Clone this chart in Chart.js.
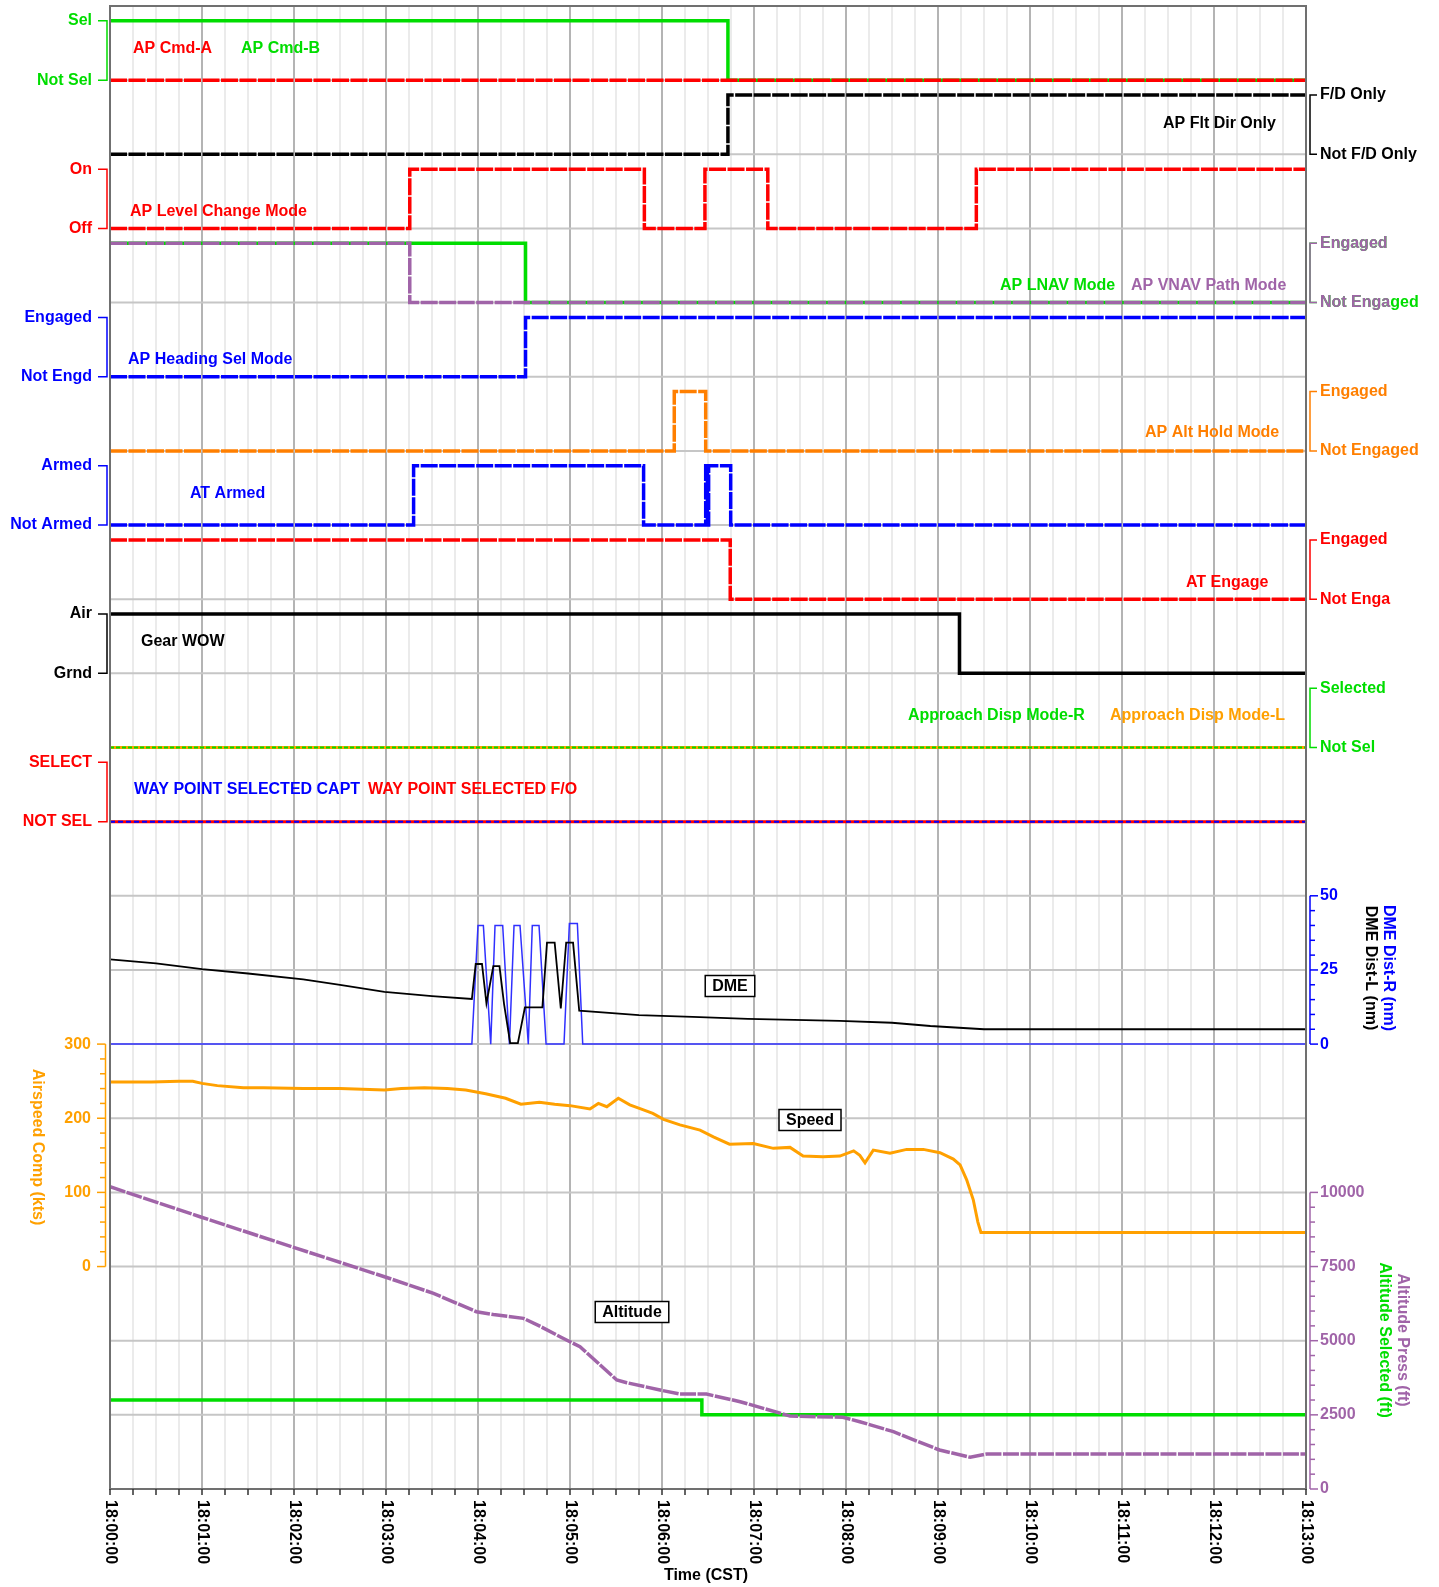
<!DOCTYPE html>
<html><head><meta charset="utf-8">
<script src="https://cdn.jsdelivr.net/npm/chart.js@4.4.1/dist/chart.umd.min.js"></script>
<style>html,body{margin:0;padding:0;background:#fff;overflow:hidden}canvas{display:block}</style>
</head><body>
<canvas id="c" width="1439" height="1587"></canvas>
<script>
// ===== DATA (time in seconds after 18:00:00) =====
const timeTickSeconds = [0,60,120,180,240,300,360,420,480,540,600,660,720,780];
const timeTickLabels = ['18:00:00','18:01:00','18:02:00','18:03:00','18:04:00','18:05:00','18:06:00','18:07:00','18:08:00','18:09:00','18:10:00','18:11:00','18:12:00','18:13:00'];
const speedTicks = [0,100,200,300];
const dmeTicks = [0,25,50];
const altTicks = [0,2500,5000,7500,10000];

// discrete states: [seconds, state]  (1 = upper label, 0 = lower label)
const apCmdA        = [[0,0],[780,0]];
const apCmdB        = [[0,1],[403,0],[780,0]];
const apFltDirOnly  = [[0,0],[403,1],[780,1]];
const apLevelChange = [[0,0],[195.5,1],[348.5,0],[388,1],[429,0],[565,1],[780,1]];
const apLnav        = [[0,1],[271,0],[780,0]];
const apVnavPath    = [[0,1],[195.5,0],[780,0]];
const apHeadingSel  = [[0,0],[271,1],[780,1]];
const apAltHold     = [[0,0],[368,1],[388.5,0],[780,0]];
const atArmed       = [[0,0],[198,1],[348,0],[388.5,1],[389.6,0],[390.4,1],[404.8,0],[780,0]];
const atEngage      = [[0,1],[404.5,0],[780,0]];
const gearWow       = [[0,1],[554,0],[780,0]];
const apprDispR     = [[0,0],[780,0]];
const apprDispL     = [[0,0],[780,0]];
const wptSelCapt    = [[0,0],[780,0]];
const wptSelFo      = [[0,0],[780,0]];

// DME (nm)
const dmeL = [[0,28.6],[30,27.2],[60,25.3],[90,23.8],[126,21.8],[150,20],[179,17.6],[210,16.2],[236,15.2],
  [238.5,27],[242.6,27],[245.5,13.7],[250,26.3],[254,26.3],[257,13.5],[261,0.3],[266,0.3],[270.6,12.4],[282,12.4],
  [285,34.2],[290,34.2],[294,12],[297.5,34.2],[302,34.2],[306,11.3],[345,9.8],[380,9.2],[416,8.5],[476,7.8],
  [510,7.2],[535,6.1],[570,5.0],[780,5.0]];
const dmeR = [[0,0],[236,0],[240,40],[243.5,40],[248.3,0],[251.1,40],[256.1,40],[260.5,0],[263.5,40],[267.4,40],
  [272.8,0],[275.4,40],[279.8,40],[284.4,0],[296.1,0],[299.6,40.7],[304.8,40.7],[308.3,0],[780,0]];

// Airspeed (kts)
const speed = [[0,249],[15,249],[27,249],[45,250],[54,250],[60,247],[70,244],[87,241],[100,241],[126,240],[150,240],
  [179,238],[190,240],[205,241],[220,240],[232,238],[245,233],[258,227],[268,219],[280,221.6],[290,219],[300,217],
  [313,212.6],[318.5,220],[324,215.5],[331.5,227],[339,218],[345.7,213],[354,206.6],[361,198.5],[371.7,191],
  [384.8,184],[393.5,175],[404,165],[419.6,166],[432.6,159.4],[443.5,160.7],[452,149],[465,148],[476,149],
  [485,156],[489,150],[492.4,140],[497.8,157],[508.7,152.7],[519.6,158],[530.4,158],[541.3,153.5],[550,145],
  [554.4,137],[558.7,117],[563,90],[566,60],[568,46],[780,46]];

// Altitude (ft)
const altPress = [[0,10190],[58.7,9179],[118.5,8168],[179,7157],[211,6597],[239,5977],[250,5880],[269.6,5754],
  [280,5500],[293.5,5134],[306.5,4797],[330.5,3674],[337,3583],[358.7,3337],[371.7,3202],[389,3202],[411,2943],
  [443.5,2461],[478,2417],[489,2269],[510.9,1932],[541,1315],[561,1069],[571.8,1180],[780,1180]];
const altSel = [[0,3000],[386,2500],[780,2500]];

// ===== STYLE =====
const RED='#ff0000', GREEN='#00dd00', BLUE='#0000ff', BLACK='#000000', PURPLE='#a064a8',
      ALTORANGE='#ff7f00', SPDORANGE='#ffa000', DMEBLUE='#3030ff';
const FONT = 'bold 16px "Liberation Sans", Arial, sans-serif';
const UNITS = 20, HIGH = 0.8;

function bandScale(k){ const b0 = UNITS - 1 - k; return {type:'linear', display:false, min:-b0/HIGH, max:(UNITS-b0)/HIGH}; }
const scales = {
  x:{type:'linear', display:false, min:0, max:780},
  dme:{type:'linear', display:false, min:-150, max:350},
  spd:{type:'linear', display:false, min:-300, max:1700},
  alt:{type:'linear', display:false, min:0, max:50000}
};
for (let k=0;k<11;k++) scales['b'+k] = bandScale(k);

const toXY = pts => pts.map(([x,y])=>({x,y}));
const DASH = {borderDash:[17,1.5]};
function step(label, pts, k, color, order, extra){
  return Object.assign({label, data:toXY(pts), yAxisID:'b'+k, borderColor:color, backgroundColor:color,
    borderWidth:3.5, pointRadius:0, stepped:true, fill:false, order}, extra||{});
}
const datasets = [
  step('AP Cmd-B', apCmdB, 0, GREEN, 5),
  step('AP Cmd-A', apCmdA, 0, RED, 4, DASH),
  step('AP Flt Dir Only', apFltDirOnly, 1, BLACK, 4, DASH),
  step('AP Level Change Mode', apLevelChange, 2, RED, 4, DASH),
  step('AP LNAV Mode', apLnav, 3, GREEN, 5),
  step('AP VNAV Path Mode', apVnavPath, 3, PURPLE, 4, DASH),
  step('AP Heading Sel Mode', apHeadingSel, 4, BLUE, 4, DASH),
  step('AP Alt Hold Mode', apAltHold, 5, ALTORANGE, 4, DASH),
  step('AT Armed', atArmed, 6, BLUE, 4, DASH),
  step('AT Engage', atEngage, 7, RED, 4, DASH),
  step('Gear WOW', gearWow, 8, BLACK, 4),
  step('Approach Disp Mode-L', apprDispL, 9, SPDORANGE, 5, {borderWidth:3}),
  step('Approach Disp Mode-R', apprDispR, 9, GREEN, 4, {borderWidth:2, borderDash:[4,2]}),
  step('WAY POINT SELECTED F/O', wptSelFo, 10, RED, 5, {borderWidth:3}),
  step('WAY POINT SELECTED CAPT', wptSelCapt, 10, BLUE, 4, {borderWidth:2, borderDash:[5,3]}),
  {label:'DME Dist-R', data:toXY(dmeR), yAxisID:'dme', borderColor:DMEBLUE, borderWidth:1.5, pointRadius:0, order:4},
  {label:'DME Dist-L', data:toXY(dmeL), yAxisID:'dme', borderColor:BLACK, borderWidth:1.8, pointRadius:0, order:3},
  {label:'Airspeed Comp', data:toXY(speed), yAxisID:'spd', borderColor:SPDORANGE, borderWidth:3, pointRadius:0, order:3},
  {label:'Altitude Selected', data:toXY(altSel), yAxisID:'alt', borderColor:GREEN, borderWidth:3.5, pointRadius:0, stepped:true, order:4},
  {label:'Altitude Press', data:toXY(altPress), yAxisID:'alt', borderColor:PURPLE, borderWidth:3.5, pointRadius:0, borderDash:[16,1.5], order:3}
];

// labels drawn on the plot
const leftBandLabels = [
  {k:0, hi:'Sel', lo:'Not Sel', color:GREEN},
  {k:2, hi:'On', lo:'Off', color:RED},
  {k:4, hi:'Engaged', lo:'Not Engd', color:BLUE},
  {k:6, hi:'Armed', lo:'Not Armed', color:BLUE},
  {k:8, hi:'Air', lo:'Grnd', color:BLACK},
  {k:10, hi:'SELECT', lo:'NOT SEL', color:RED}
];
const rightBandLabels = [
  {k:1, hi:'F/D Only', lo:'Not F/D Only', color:BLACK},
  {k:3, hi:'Engaged', lo:'Not Engaged', color:GREEN},
  {k:3, hi:'Engaged', lo:'Not Enga', color:PURPLE},
  {k:5, hi:'Engaged', lo:'Not Engaged', color:ALTORANGE},
  {k:7, hi:'Engaged', lo:'Not Enga', color:RED},
  {k:9, hi:'Selected', lo:'Not Sel', color:GREEN}
];
const seriesLabels = [
  ['AP Cmd-A',133,49,RED],['AP Cmd-B',241,49,GREEN],
  ['AP Flt Dir Only',1163,124,BLACK],
  ['AP Level Change Mode',130,212,RED],
  ['AP LNAV Mode',1000,286,GREEN],['AP VNAV Path Mode',1131,286,PURPLE],
  ['AP Heading Sel Mode',128,360,BLUE],
  ['AP Alt Hold Mode',1145,433,ALTORANGE],
  ['AT Armed',190,494,BLUE],
  ['AT Engage',1186,583,RED],
  ['Gear WOW',141,642,BLACK],
  ['Approach Disp Mode-R',908,716,GREEN],['Approach Disp Mode-L',1110,716,SPDORANGE],
  ['WAY POINT SELECTED CAPT',134,790,BLUE],['WAY POINT SELECTED F/O',368,790,RED]
];
const boxLabels = [['DME',730,986],['Speed',810,1120],['Altitude',632,1312]];

function txt(ctx,s,x,y,color,align){ ctx.font=FONT; ctx.fillStyle=color; ctx.textAlign=align||'left'; ctx.textBaseline='middle'; ctx.fillText(s,x,y); }
function rotTxt(ctx,s,x,y,color,align){ ctx.save(); ctx.translate(x,y); ctx.rotate(Math.PI/2); txt(ctx,s,0,0,color,align||'center'); ctx.restore(); }
function seg(ctx,x1,y1,x2,y2){ ctx.beginPath(); ctx.moveTo(x1,y1); ctx.lineTo(x2,y2); ctx.stroke(); }

const overlay = {
  id:'overlay',
  beforeDraw(chart){ const c=chart.ctx; c.save(); c.fillStyle='#fff'; c.fillRect(0,0,chart.width,chart.height); c.restore(); },
  beforeDatasetsDraw(chart){
    const {ctx, chartArea:a, scales:s} = chart;
    ctx.save();
    for (let t=0; t<=780; t+=15){
      const x = s.x.getPixelForValue(t);
      ctx.strokeStyle = t%60===0 ? '#b4b4b4' : '#e4e4e4';
      ctx.lineWidth = t%60===0 ? 2 : 1.5;
      seg(ctx,x,a.top,x,a.bottom);
    }
    ctx.strokeStyle='#c6c6c6'; ctx.lineWidth=2;
    for (let v=2500; v<50000; v+=2500){ const y=s.alt.getPixelForValue(v); seg(ctx,a.left,y,a.right,y); }
    ctx.restore();
  },
  afterDatasetsDraw(chart){
    const {ctx, chartArea:a, scales:s} = chart;
    ctx.save();
    // plot border
    ctx.strokeStyle='#707070'; ctx.lineWidth=2;
    ctx.strokeRect(a.left,a.top,a.right-a.left,a.bottom-a.top);
    // series labels
    seriesLabels.forEach(([t,x,y,c])=>txt(ctx,t,x,y,c,'left'));
    // boxed labels
    boxLabels.forEach(([t,x,y])=>{
      ctx.font=FONT; const w=ctx.measureText(t).width+14, h=21;
      ctx.fillStyle='#fff'; ctx.fillRect(x-w/2,y-h/2,w,h);
      ctx.strokeStyle='#000'; ctx.lineWidth=1.5; ctx.strokeRect(x-w/2,y-h/2,w,h);
      txt(ctx,t,x,y+0.5,BLACK,'center');
    });
    // left band axes
    leftBandLabels.forEach(b=>{
      const sc=s['b'+b.k], yh=sc.getPixelForValue(1), yl=sc.getPixelForValue(0);
      ctx.strokeStyle=b.color; ctx.lineWidth=1.5;
      ctx.beginPath(); ctx.moveTo(98,yh); ctx.lineTo(107,yh); ctx.lineTo(107,yl); ctx.lineTo(98,yl); ctx.stroke();
      txt(ctx,b.hi,92,yh,b.color,'right'); txt(ctx,b.lo,92,yl,b.color,'right');
    });
    // right band axes
    rightBandLabels.forEach(b=>{
      const sc=s['b'+b.k], yh=sc.getPixelForValue(1), yl=sc.getPixelForValue(0);
      ctx.strokeStyle=b.color; ctx.lineWidth=1.5;
      ctx.beginPath(); ctx.moveTo(1317,yh); ctx.lineTo(1310,yh); ctx.lineTo(1310,yl); ctx.lineTo(1317,yl); ctx.stroke();
      txt(ctx,b.hi,1320,yh,b.color,'left'); txt(ctx,b.lo,1320,yl,b.color,'left');
    });
    // speed axis (left)
    ctx.strokeStyle=SPDORANGE; ctx.lineWidth=1.5;
    seg(ctx,105.5,s.spd.getPixelForValue(300),105.5,s.spd.getPixelForValue(0));
    for (let v=0; v<=300; v+=20){ const y=s.spd.getPixelForValue(v); seg(ctx, v%100===0?97:100, y, 105.5, y); }
    speedTicks.forEach(v=>txt(ctx,String(v),91,s.spd.getPixelForValue(v),SPDORANGE,'right'));
    rotTxt(ctx,'Airspeed Comp (kts)',37,1147,SPDORANGE);
    // DME axis (right)
    ctx.strokeStyle=BLUE; ctx.lineWidth=1.5;
    seg(ctx,1310,s.dme.getPixelForValue(50),1310,s.dme.getPixelForValue(0));
    for (let v=0; v<=50; v+=5){ const y=s.dme.getPixelForValue(v); seg(ctx,1310,y, v%25===0?1318:1315, y); }
    dmeTicks.forEach(v=>txt(ctx,String(v),1320,s.dme.getPixelForValue(v),BLUE,'left'));
    rotTxt(ctx,'DME Dist-R (nm)',1388,968,BLUE);
    rotTxt(ctx,'DME Dist-L (nm)',1370,968,BLACK);
    // Altitude axis (right)
    ctx.strokeStyle=PURPLE; ctx.lineWidth=1.5;
    seg(ctx,1310,s.alt.getPixelForValue(10000),1310,s.alt.getPixelForValue(0));
    for (let v=0; v<=10000; v+=500){ const y=s.alt.getPixelForValue(v); seg(ctx,1310,y, v%2500===0?1318:1315, y); }
    altTicks.forEach(v=>txt(ctx,String(v),1320,s.alt.getPixelForValue(v),PURPLE,'left'));
    rotTxt(ctx,'Altitude Press (ft)',1402,1340,PURPLE);
    rotTxt(ctx,'Altitude Selected (ft)',1384,1340,GREEN);
    // time axis
    ctx.strokeStyle='#303030'; ctx.lineWidth=1.5;
    for (let t=0; t<=780; t+=15){ const x=s.x.getPixelForValue(t); seg(ctx,x,a.bottom,x,a.bottom+6); }
    timeTickSeconds.forEach((t,i)=>{
      const x=s.x.getPixelForValue(t);
      ctx.save(); ctx.translate(x,1500); ctx.rotate(Math.PI/2); txt(ctx,timeTickLabels[i],0,0,BLACK,'left'); ctx.restore();
    });
    txt(ctx,'Time (CST)',706,1576,BLACK,'center');
    ctx.restore();
  }
};

new Chart(document.getElementById('c'), {
  type:'line',
  data:{datasets},
  options:{
    responsive:false, animation:false, devicePixelRatio:1,
    parsing:true, normalized:true,
    layout:{padding:{left:110, top:6, right:133, bottom:98}},
    plugins:{legend:{display:false}, tooltip:{enabled:false}, title:{display:false}},
    elements:{line:{tension:0}},
    scales
  },
  plugins:[overlay]
});
</script>
</body></html>
